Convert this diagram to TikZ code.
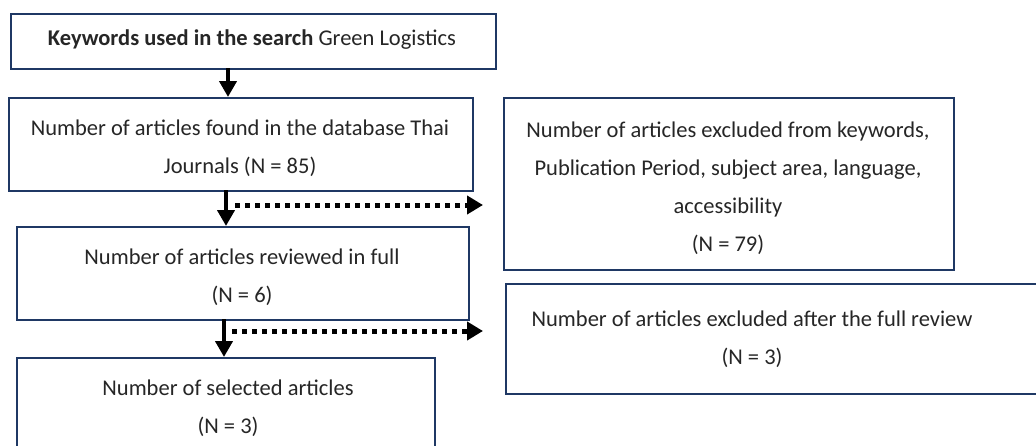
\documentclass[tikz,border=0pt]{standalone}
\usepackage{fontspec}
\setmainfont{Carlito}
\usetikzlibrary{arrows.meta,calc}
\definecolor{boxblue}{HTML}{1F3864}
\tikzset{
  flowbox/.style={draw=boxblue, line width=2pt, fill=white, inner sep=0pt, anchor=north west},
  flowtext/.style={font=\fontsize{22.5}{38}\selectfont, align=center, inner sep=0pt, text=black!85},
  mainarrow/.style={line width=4.5pt, -{Triangle[width=17pt,length=16pt]}},
  dotarrow/.style={line width=5pt, dash pattern=on 5pt off 5pt, -{Triangle[width=18pt,length=16pt]}},
}
\begin{document}
\begin{tikzpicture}[x=1pt,y=-1pt]
\useasboundingbox (0,0) rectangle (1036,445);
% boxes
\node[flowbox, minimum width=485pt, minimum height=55pt] (b1) at (10,13) {};
\node[flowbox, minimum width=464pt, minimum height=93pt] (b2) at (8,97) {};
\node[flowbox, minimum width=450pt, minimum height=172pt] (b3) at (503,97) {};
\node[flowbox, minimum width=545pt, minimum height=110pt] (b4) at (505,283) {};
\node[flowbox, minimum width=452pt, minimum height=93pt] (b5) at (16,226) {};
\node[flowbox, minimum width=418pt, minimum height=100pt] (b6) at (16,357) {};
% texts
\node[flowtext] (t1) at (252,40) {\textbf{Keywords used in the search} Green Logistics};
\node[flowtext] (t2) at (240,148) {Number of articles found in the database Thai\\Journals (N = 85)};
\node[flowtext] (t3) at (728,188.5) {Number of articles excluded from keywords,\\Publication Period, subject area, language,\\accessibility\\(N = 79)};
\node[flowtext] (t4) at (752,339) {Number of articles excluded after the full review\\(N = 3)};
\node[flowtext] (t5) at (242,277.5) {Number of articles reviewed in full\\(N = 6)};
\node[flowtext] (t6) at (228,408) {Number of selected articles\\(N = 3)};
% connectors
\coordinate (a1s) at (228,68);
\coordinate (a2s) at (226,190);
\coordinate (a3s) at (224,319);
\draw[mainarrow] (a1s) -- (a1s |- b2.north);
\draw[mainarrow] (a2s) -- (a2s |- b5.north);
\draw[mainarrow] (a3s) -- (a3s |- b6.north);
\coordinate (d1s) at (235,205);
\coordinate (d1e) at (483,205);
\coordinate (d2s) at (232,331);
\coordinate (d2e) at (483,331);
\draw[dotarrow] (d1s) -- (d1e);
\draw[dotarrow] (d2s) -- (d2e);
\end{tikzpicture}
\end{document}
